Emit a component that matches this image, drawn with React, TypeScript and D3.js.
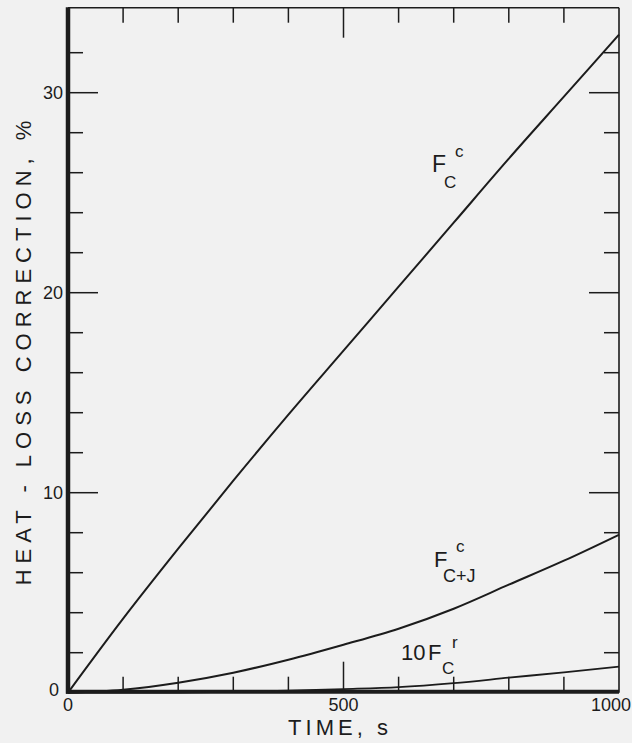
import React from "react";
import * as d3 from "d3";

const times = [0, 100, 200, 300, 400, 500, 600, 700, 800, 900, 1000];
const fcc = [0, 3.7, 7.2, 10.6, 13.9, 17.1, 20.3, 23.5, 26.7, 29.8, 32.9];
const fccj = [0, 0.15, 0.5, 1.0, 1.65, 2.4, 3.2, 4.2, 5.4, 6.6, 7.9];
const tenFcr = [0, 0.0, 0.01, 0.04, 0.1, 0.18, 0.28, 0.48, 0.75, 1.02, 1.3];
const xTickLabels = [0, 500, 1000];
const yTickLabels = [0, 10, 20, 30];
const xMinorTicks = [100, 200, 300, 400, 500, 600, 700, 800, 900];
const yMinorTicks = [2, 4, 6, 8, 10, 12, 14, 16, 18, 20, 22, 24, 26, 28, 30, 32];

const W = 632, H = 743;
const INK = "#1c1c1c";
const FONT = "'Liberation Sans', 'DejaVu Sans', sans-serif";

export default function App() {
  const x = d3.scaleLinear().domain([0, 1000]).range([68, 619]);
  const y = d3.scaleLinear().domain([0, 30]).range([692.7, 92.7]);
  const yTop = y(34.25);

  const mk = (vals: number[]) =>
    d3.line<number>().x((_, i) => x(times[i])).y((v) => y(v)).curve(d3.curveMonotoneX)(vals) || "";

  return (
    <svg width={W} height={H} style={{ position: "absolute", left: 0, top: 0, background: "#f1f1f1" }}>
      <rect x={0} y={0} width={W} height={H} fill="#f1f1f1" />
      {/* frame */}
      <line x1={x(0)} x2={x(1000)} y1={yTop} y2={yTop} stroke={INK} strokeWidth={1.6} />
      <line x1={x(1000)} x2={x(1000)} y1={yTop} y2={y(0)} stroke={INK} strokeWidth={1.6} />
      {/* x ticks */}
      {xMinorTicks.map((t) => {
        const len = t === 500 ? 31 : 16;
        return (
          <g key={"xt" + t}>
            <line x1={x(t)} x2={x(t)} y1={y(0)} y2={y(0) - len} stroke={INK} strokeWidth={1.5} />
            <line x1={x(t)} x2={x(t)} y1={yTop} y2={yTop + (t === 500 ? 30 : 15)} stroke={INK} strokeWidth={1.5} />
          </g>
        );
      })}
      {/* y ticks */}
      {yMinorTicks.map((v) => {
        const len = v % 10 === 0 ? 30 : 15;
        return (
          <g key={"yt" + v}>
            <line x1={x(0)} x2={x(0) + len} y1={y(v)} y2={y(v)} stroke={INK} strokeWidth={1.5} />
            <line x1={x(1000)} x2={x(1000) - len} y1={y(v)} y2={y(v)} stroke={INK} strokeWidth={1.5} />
          </g>
        );
      })}
      {/* thick axes */}
      <line x1={x(0)} x2={x(0)} y1={yTop - 0.5} y2={y(0) + 1} stroke={INK} strokeWidth={4.5} />
      <line x1={x(0) - 2} x2={x(1000)} y1={y(0) - 1} y2={y(0) - 1} stroke={INK} strokeWidth={4} />
      {/* curves */}
      <path d={mk(fcc)} fill="none" stroke={INK} strokeWidth={2} />
      <path d={mk(fccj)} fill="none" stroke={INK} strokeWidth={2} />
      <path d={mk(tenFcr)} fill="none" stroke={INK} strokeWidth={1.8} />
      {/* tick labels */}
      {yTickLabels.map((v) => (
        <text key={"yl" + v} x={v === 0 ? 59 : 63} y={y(v) - (v === 0 ? 3 : 0)} textAnchor="end" dominantBaseline="central"
          fontFamily={FONT} fontSize={18} fill={INK}>{v}</text>
      ))}
      {xTickLabels.map((t) => (
        <text key={"xl" + t} x={t === 1000 ? 631 : x(t)} y={705} textAnchor={t === 1000 ? "end" : "middle"} dominantBaseline="central"
          fontFamily={FONT} fontSize={18} fill={INK}>{t}</text>
      ))}
      {/* axis titles */}
      <text x={340} y={735} textAnchor="middle" fontFamily={FONT} fontSize={22} letterSpacing={4} fill={INK}>TIME, s</text>
      <text transform={`translate(31,350) rotate(-90)`} textAnchor="middle" fontFamily={FONT} fontSize={22}
        letterSpacing={6} fill={INK}>HEAT - LOSS CORRECTION, %</text>
      {/* annotations */}
      <text x={432} y={172} fontFamily={FONT} fontSize={23} fill={INK}>F</text>
      <text x={444} y={188} fontFamily={FONT} fontSize={17} fill={INK}>C</text>
      <text x={455} y={157} fontFamily={FONT} fontSize={17} fill={INK}>c</text>

      <text x={434} y={567} fontFamily={FONT} fontSize={22} fill={INK}>F</text>
      <text x={443} y={582} fontFamily={FONT} fontSize={18} fill={INK}>C+J</text>
      <text x={456} y={552} fontFamily={FONT} fontSize={17} fill={INK}>c</text>

      <text x={401} y={660} fontFamily={FONT} fontSize={22} fill={INK}>10</text>
      <text x={428} y={660} fontFamily={FONT} fontSize={22} fill={INK}>F</text>
      <text x={442} y={674} fontFamily={FONT} fontSize={17} fill={INK}>C</text>
      <text x={452} y={648} fontFamily={FONT} fontSize={17} fill={INK}>r</text>
    </svg>
  );
}
